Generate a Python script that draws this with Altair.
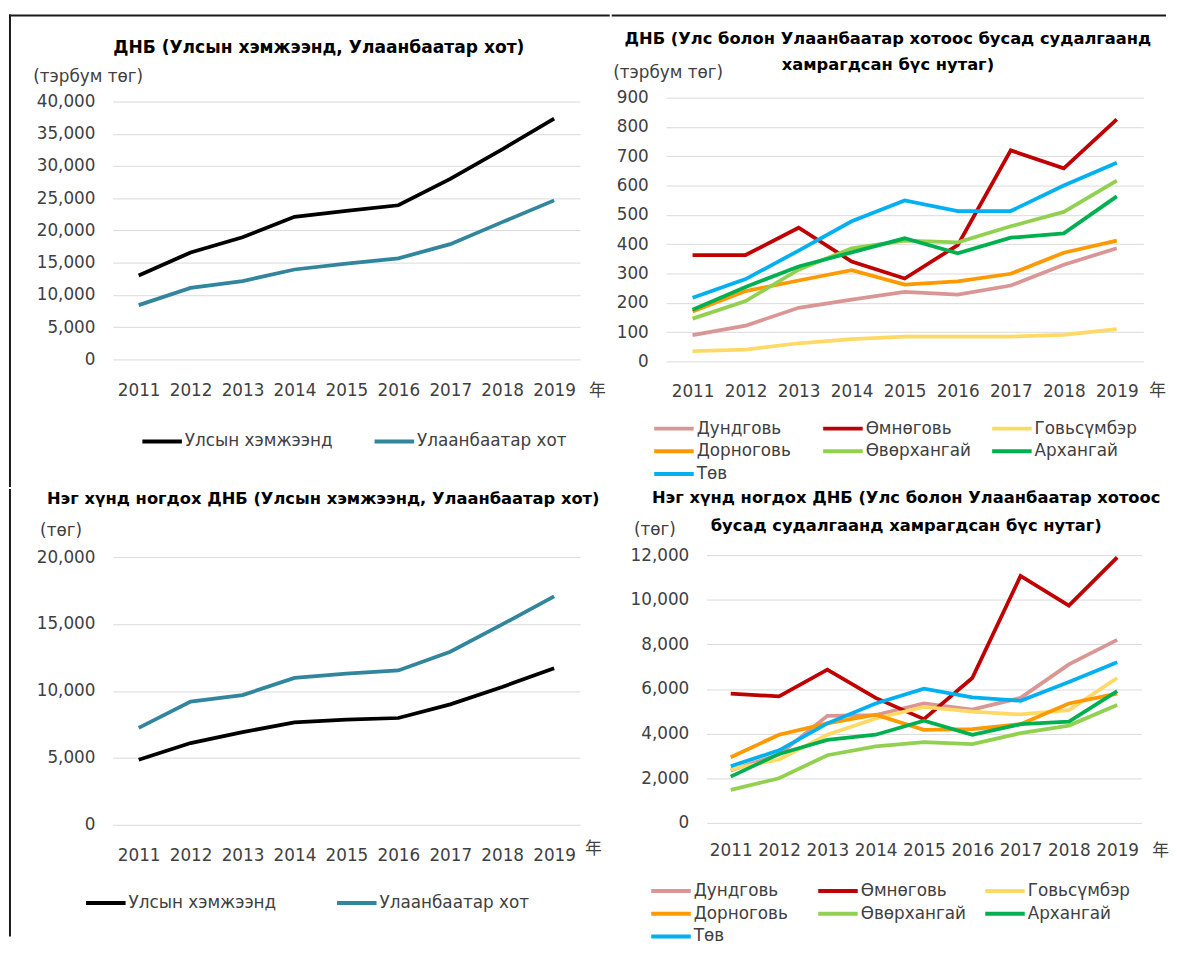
import altair as alt
import pandas as pd

years = [2011, 2012, 2013, 2014, 2015, 2016, 2017, 2018, 2019]

# ---- Top-left: GDP (billion MNT) ----
nat_names = ["Улсын хэмжээнд", "Улаанбаатар хот"]
nat_colors = ["#000000", "#31859C"]
gdp_national = [13030, 16600, 18950, 22120, 23040, 23910, 28000, 32590, 37340]
gdp_ub = [8430, 11090, 12160, 13950, 14870, 15680, 17880, 21300, 24670]

# ---- Bottom-left: GDP per capita (thousand MNT) ----
pc_national = [4860, 6110, 6920, 7660, 7850, 7980, 9000, 10300, 11700]
pc_ub = [7240, 9200, 9690, 10970, 11290, 11530, 12930, 14970, 17060]

# ---- Aimags ----
aimag_names = ["Дундговь", "Өмнөговь", "Говьсүмбэр", "Дорноговь",
               "Өвөрхангай", "Архангай", "Төв"]
aimag_colors = ["#D99694", "#C00000", "#FFD966", "#FF9900",
                "#92D050", "#00B050", "#00B0F0"]

# GDP (billion MNT)
gdp_dundgovi = [90, 122, 183, 211, 237, 228, 259, 330, 386]
gdp_umnugovi = [363, 363, 456, 341, 283, 397, 720, 659, 826]
gdp_govisumber = [35, 40, 62, 76, 85, 85, 85, 91, 110]
gdp_dornogovi = [170, 240, 276, 311, 262, 273, 299, 371, 412]
gdp_uvurkhangai = [146, 206, 313, 386, 412, 406, 461, 510, 617]
gdp_arkhangai = [176, 254, 324, 372, 420, 369, 422, 437, 563]
gdp_tuv = [217, 281, 378, 478, 549, 513, 513, 600, 678]

# GDP per capita (thousand MNT)
pc_dundgovi = [2350, 3060, 4800, 4830, 5350, 5080, 5600, 7100, 8200]
pc_umnugovi = [5790, 5670, 6870, 5600, 4650, 6490, 11070, 9740, 11900]
pc_govisumber = [2400, 2840, 3950, 4680, 5200, 4980, 4860, 5050, 6490]
pc_dornogovi = [2940, 3950, 4460, 4850, 4170, 4200, 4420, 5350, 5790]
pc_uvurkhangai = [1480, 2000, 3030, 3430, 3620, 3530, 4020, 4360, 5280]
pc_arkhangai = [2070, 3090, 3720, 3950, 4580, 3950, 4420, 4540, 5900]
pc_tuv = [2540, 3250, 4460, 5350, 6010, 5620, 5470, 6310, 7200]

FONT = "DejaVu Sans"
CJK = "Noto Sans CJK JP"
TEXT = "#404040"


def long_df(names, series):
    rows = []
    for name, vals in zip(names, series):
        for y, v in zip(years, vals):
            rows.append({"year": str(y), "series": name, "value": v})
    return pd.DataFrame(rows)


def frame(x, x2, y, y2):
    return alt.Chart(alt.Data(values=[{"f": 1}])).mark_rule(
        color="#1a1a1a", strokeWidth=2, strokeCap="square"
    ).encode(x=alt.value(x), x2=alt.value(x2), y=alt.value(y), y2=alt.value(y2))


def panel(df, names, colors, width, height, ymax, ticks, unit, unit_x, unit_y,
          label_pad, year_x, year_y, title, title_size, title_dx, title_dy, line_h,
          leg_x, leg_y, leg_cols, leg_colpad, leg_rowpad, leg_clip, grid_align,
          frames):
    lines = alt.Chart(df).mark_line(strokeWidth=3.8).encode(
        x=alt.X("year:O", axis=alt.Axis(
            title="年", titleX=year_x, titleY=year_y, titleAlign="center",
            titleBaseline="middle", titleFont=CJK, titleAngle=0,
            labelAngle=0, labelPadding=label_pad, labelBaseline="middle",
            labelOverlap=False)),
        y=alt.Y("value:Q", scale=alt.Scale(domain=[0, ymax], nice=False),
                axis=alt.Axis(values=ticks, format=",d", title=unit,
                              titleX=unit_x, titleY=unit_y, titleAngle=0,
                              titleAlign="left", titleBaseline="middle",
                              labelPadding=18, grid=True)),
        color=alt.Color("series:N", sort=names,
                        scale=alt.Scale(domain=names, range=colors),
                        legend=alt.Legend(
                            orient="none", legendX=leg_x, legendY=leg_y,
                            direction="horizontal", columns=leg_cols,
                            title=None, symbolType="stroke", symbolSize=1600,
                            symbolStrokeWidth=4, labelOffset=1,
                            clipHeight=leg_clip,
                            columnPadding=leg_colpad, rowPadding=leg_rowpad,
                            gridAlign=grid_align, labelLimit=400)),
    )
    layers = [lines] + [frame(*f) for f in frames]
    return alt.layer(*layers).properties(
        width=width, height=height,
        title=alt.TitleParams(text=title, fontSize=title_size, dx=title_dx,
                              dy=title_dy, lineHeight=line_h),
    )


tl = panel(long_df(nat_names, [gdp_national, gdp_ub]), nat_names, nat_colors,
           473, 265, 40610, list(range(0, 40001, 5000)), "(тэрбум төг)", -81, -21,
           31, 490, 31, "ДНБ (Улсын хэмжээнд, Улаанбаатар хот)", 17.3, -28, 36, 26,
           28, 337.5, 2, 40, 2, 21, "each",
           [(-104, -104, -83, 393), (-104, 502, -83, -83)])

tr = panel(long_df(aimag_names, [gdp_dundgovi, gdp_umnugovi, gdp_govisumber,
                                 gdp_dornogovi, gdp_uvurkhangai, gdp_arkhangai,
                                 gdp_tuv]),
           aimag_names, aimag_colors,
           483, 267, 900, list(range(0, 901, 100)), "(тэрбум төг)", -54, -25,
           30, 497, 29,
           ["ДНБ (Улс болон Улаанбаатар хотоос бусад судалгаанд",
            "хамрагдсан бүс нутаг)"], 16.5, -17, 53, 26,
           -14, 324.5, 3, 19, 2, 21, "all",
           [(-54, 505, -83, -83)])

bl = panel(long_df(nat_names, [pc_national, pc_ub]), nat_names, nat_colors,
           473, 273, 20148, list(range(0, 20001, 5000)), "(төг)", -74, -25,
           31, 486, 24, "Нэг хүнд ногдох ДНБ (Улсын хэмжээнд, Улаанбаатар хот)",
           16.5, -23.5, 12, 26,
           -29, 341.5, 2, 59, 2, 21, "each",
           [(-104, -104, -66, 385)])

br = panel(long_df(aimag_names, [pc_dundgovi, pc_umnugovi, pc_govisumber,
                                 pc_dornogovi, pc_uvurkhangai, pc_arkhangai,
                                 pc_tuv]),
           aimag_names, aimag_colors,
           440, 271, 12000, list(range(0, 12001, 2000)), "(төг)", -74, -26,
           28, 459, 28,
           ["Нэг хүнд ногдох ДНБ (Улс болон Улаанбаатар хотоос",
            "бусад судалгаанд  хамрагдсан бүс нутаг)"], 16.5, -18, 7, 28,
           -58, 330.5, 3, 17, 4, 19, "all",
           [])

res = dict(color="independent", x="independent", y="independent")

row1 = alt.hconcat(tl, tr, spacing=0).resolve_scale(**res).resolve_legend(color="independent")
row2 = alt.hconcat(bl, br, spacing=28).resolve_scale(**res).resolve_legend(color="independent")

chart = alt.vconcat(
    row1, row2, spacing=0,
    padding={"left": 0, "top": 0, "right": 0, "bottom": 0},
).resolve_scale(**res).resolve_legend(color="independent").configure(
    background="white"
).configure_axis(
    labelFont=FONT, labelFontSize=17, labelColor=TEXT,
    titleFont=FONT, titleFontSize=17, titleFontWeight="normal", titleColor=TEXT,
    domain=False, ticks=False, tickSize=0,
    gridColor="#D9D9D9", gridWidth=1,
).configure_axisX(grid=False).configure_view(
    stroke="transparent"
).configure_legend(
    labelFont=FONT, labelFontSize=17, labelColor=TEXT, padding=0,
).configure_title(
    font=FONT, fontSize=17, fontWeight="bold", color="#000000",
    anchor="middle", frame="group", offset=-7, baseline="alphabetic",
)

chart.save("out.html", embed_options={"renderer": "svg", "actions": False})
